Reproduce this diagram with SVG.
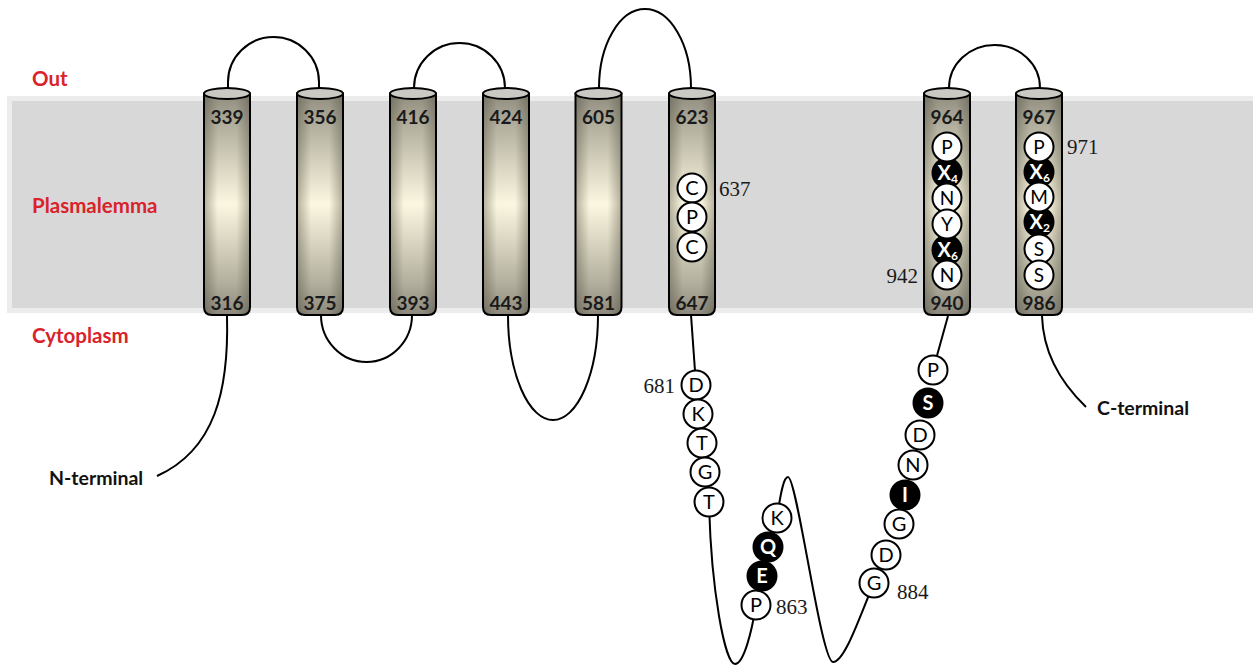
<svg xmlns="http://www.w3.org/2000/svg" xmlns:xlink="http://www.w3.org/1999/xlink" width="1253" height="668" viewBox="0 0 1253 668">
<defs>
<linearGradient id="body" x1="0" y1="0" x2="0" y2="1">
<stop offset="0" stop-color="#8f8c7f"/>
<stop offset="0.15" stop-color="#b3b09f"/>
<stop offset="0.5" stop-color="#fbf7e0"/>
<stop offset="0.85" stop-color="#b3b09f"/>
<stop offset="1" stop-color="#8c897c"/>
</linearGradient>
<linearGradient id="shade" x1="0" y1="0" x2="1" y2="0">
<stop offset="0" stop-color="#4a4636" stop-opacity="0.4"/>
<stop offset="0.3" stop-color="#4a4636" stop-opacity="0"/>
<stop offset="0.7" stop-color="#4a4636" stop-opacity="0"/>
<stop offset="1" stop-color="#4a4636" stop-opacity="0.4"/>
</linearGradient>
<path id="cylShape" d="M-23,93.5 V307 Q-23,315 -15,315 H15 Q23,315 23,307 V93.5 Z"/>
</defs>
<style>
.lbl{font-family:Lato,"Open Sans","Liberation Sans",sans-serif;font-weight:bold;font-size:20.5px;fill:#d9232b}
.term{font-family:Lato,"Open Sans","Liberation Sans",sans-serif;font-weight:bold;font-size:19.5px;fill:#111}
.num{font-family:Lato,"Open Sans","Liberation Sans",sans-serif;font-weight:bold;font-size:19px;fill:#1a1a1a;text-anchor:middle}
.pos{font-family:"Liberation Serif","DejaVu Serif",serif;font-size:21px;fill:#1a1a1a}
.wire{fill:none;stroke:#000;stroke-width:2}
.outl{fill:none;stroke:#000;stroke-width:2}
.cap{fill:#cbc9c3;stroke:#000;stroke-width:2}
.rw{fill:#fff;stroke:#000;stroke-width:2}
.rb{fill:#000;stroke:#000;stroke-width:2}
.tw{font-family:Lato,"Open Sans","Liberation Sans",sans-serif;font-size:20px;fill:#000;text-anchor:middle}
.tc{font-family:Lato,"Open Sans","Liberation Sans",sans-serif;font-size:19px;fill:#000;text-anchor:middle}
.tb{font-family:Lato,"Open Sans","Liberation Sans",sans-serif;font-size:20px;font-weight:bold;fill:#fff;text-anchor:middle}
.tx{font-family:Lato,"Open Sans","Liberation Sans",sans-serif;font-size:20px;font-weight:bold;fill:#fff}
.sub{font-size:12px}
</style>
<rect width="1253" height="668" fill="#fff"/>
<g id="membrane">
<rect x="7" y="96" width="1246" height="217" fill="#ececec"/>
<rect x="12" y="101" width="1241" height="207" fill="#d8d8d8"/>
</g>
<g id="labels">
<text class="lbl" x="32" y="86">Out</text>
<text class="lbl" x="32" y="213">Plasmalemma</text>
<text class="lbl" x="32" y="343">Cytoplasm</text>
<text class="term" x="49" y="485">N-terminal</text>
<text class="term" x="1097" y="415">C-terminal</text>
</g>
<g id="connectors">
<path class="wire" d="M228,88 V82 A45.5,45 0 0 1 319,82 V88"/>
<path class="wire" d="M414,88 A45.5,45 0 0 1 505,88"/>
<path class="wire" d="M599,88 A46,79 0 0 1 691,88"/>
<path class="wire" d="M949,88 A45.5,43 0 0 1 1040,88"/>
<path class="wire" d="M321,315 A45.5,47 0 0 0 412,315"/>
<path class="wire" d="M508,315 A45,105 0 0 0 598,315"/>
<path class="wire" d="M227,316 C229,390 215,450 157,476"/>
<path class="wire" d="M1042,316 C1043,350 1058,380 1086,407"/>
<path class="wire" d="M691,315 L696,385"/>
<path class="wire" d="M709,502 C711,590 725,664 735,664 C744,664 752,630 756,605"/>
<path class="wire" d="M777,518 C781,490 784,477 788,477 C797,477 821,662 833,662 C845,662 860,615 874,583"/>
<path class="wire" d="M933,370 L948,316"/>
</g>
<g id="tm339" transform="translate(227,0)">
<use xlink:href="#cylShape" fill="url(#body)"/><use xlink:href="#cylShape" fill="url(#shade)"/><use xlink:href="#cylShape" class="outl"/>
<ellipse class="cap" cx="0" cy="93.5" rx="23" ry="5.5"/>
<text class="num" x="0" y="124">339</text><text class="num" x="0" y="310">316</text>
</g>
<g id="tm356" transform="translate(320,0)">
<use xlink:href="#cylShape" fill="url(#body)"/><use xlink:href="#cylShape" fill="url(#shade)"/><use xlink:href="#cylShape" class="outl"/>
<ellipse class="cap" cx="0" cy="93.5" rx="23" ry="5.5"/>
<text class="num" x="0" y="124">356</text><text class="num" x="0" y="310">375</text>
</g>
<g id="tm416" transform="translate(413,0)">
<use xlink:href="#cylShape" fill="url(#body)"/><use xlink:href="#cylShape" fill="url(#shade)"/><use xlink:href="#cylShape" class="outl"/>
<ellipse class="cap" cx="0" cy="93.5" rx="23" ry="5.5"/>
<text class="num" x="0" y="124">416</text><text class="num" x="0" y="310">393</text>
</g>
<g id="tm424" transform="translate(506,0)">
<use xlink:href="#cylShape" fill="url(#body)"/><use xlink:href="#cylShape" fill="url(#shade)"/><use xlink:href="#cylShape" class="outl"/>
<ellipse class="cap" cx="0" cy="93.5" rx="23" ry="5.5"/>
<text class="num" x="0" y="124">424</text><text class="num" x="0" y="310">443</text>
</g>
<g id="tm605" transform="translate(598.5,0)">
<use xlink:href="#cylShape" fill="url(#body)"/><use xlink:href="#cylShape" fill="url(#shade)"/><use xlink:href="#cylShape" class="outl"/>
<ellipse class="cap" cx="0" cy="93.5" rx="23" ry="5.5"/>
<text class="num" x="0" y="124">605</text><text class="num" x="0" y="310">581</text>
</g>
<g id="tm623" transform="translate(692,0)">
<use xlink:href="#cylShape" fill="url(#body)"/><use xlink:href="#cylShape" fill="url(#shade)"/><use xlink:href="#cylShape" class="outl"/>
<ellipse class="cap" cx="0" cy="93.5" rx="23" ry="5.5"/>
<text class="num" x="0" y="124">623</text><text class="num" x="0" y="310">647</text>
</g>
<g id="tm964" transform="translate(947,0)">
<use xlink:href="#cylShape" fill="url(#body)"/><use xlink:href="#cylShape" fill="url(#shade)"/><use xlink:href="#cylShape" class="outl"/>
<ellipse class="cap" cx="0" cy="93.5" rx="23" ry="5.5"/>
<text class="num" x="0" y="124">964</text><text class="num" x="0" y="310">940</text>
</g>
<g id="tm967" transform="translate(1039,0)">
<use xlink:href="#cylShape" fill="url(#body)"/><use xlink:href="#cylShape" fill="url(#shade)"/><use xlink:href="#cylShape" class="outl"/>
<ellipse class="cap" cx="0" cy="93.5" rx="23" ry="5.5"/>
<text class="num" x="0" y="124">967</text><text class="num" x="0" y="310">986</text>
</g>
<g id="motif623">
<g id="r637"><circle class="rw" cx="692" cy="188" r="14.5"/><text class="tw" x="692" y="195">C</text></g>
<g id="r638"><circle class="rw" cx="692" cy="217" r="14.5"/><text class="tw" x="692" y="224">P</text></g>
<g id="r639"><circle class="rw" cx="692" cy="247" r="14.5"/><text class="tw" x="692" y="254">C</text></g>
<text class="pos" x="719" y="196">637</text>
</g>
<g id="motif964">
<circle class="rb" cx="947" cy="173" r="14.5"/>
<circle class="rb" cx="947" cy="250" r="14.5"/>
<circle class="rw" cx="947" cy="147" r="14.5"/>
<circle class="rw" cx="947" cy="198" r="14.5"/>
<circle class="rw" cx="947" cy="224" r="14.5"/>
<circle class="rw" cx="947" cy="275" r="14.5"/>
<text class="tc" x="947" y="154">P</text>
<text class="tx" x="937.5" y="179.5">X<tspan class="sub" dy="3.5">4</tspan></text>
<text class="tc" x="947" y="205">N</text>
<text class="tc" x="947" y="231">Y</text>
<text class="tx" x="937.5" y="256.5">X<tspan class="sub" dy="3.5">6</tspan></text>
<text class="tc" x="947" y="282">N</text>
<text class="pos" x="918" y="283" text-anchor="end">942</text>
</g>
<g id="motif967">
<circle class="rb" cx="1039" cy="172" r="14.5"/>
<circle class="rb" cx="1039" cy="222" r="14.5"/>
<circle class="rw" cx="1039" cy="147" r="14.5"/>
<circle class="rw" cx="1039" cy="197" r="14.5"/>
<circle class="rw" cx="1039" cy="249" r="14.5"/>
<circle class="rw" cx="1039" cy="275" r="14.5"/>
<text class="tc" x="1039" y="154">P</text>
<text class="tx" x="1029.5" y="178.5">X<tspan class="sub" dy="3.5">6</tspan></text>
<text class="tc" x="1039" y="204">M</text>
<text class="tx" x="1029.5" y="228.5">X<tspan class="sub" dy="3.5">2</tspan></text>
<text class="tc" x="1039" y="256">S</text>
<text class="tc" x="1039" y="282">S</text>
<text class="pos" x="1067" y="154">971</text>
</g>
<g id="loop681">
<g id="r681"><circle class="rw" cx="696" cy="385" r="14.5"/><text class="tw" x="696" y="392">D</text></g>
<g id="r682"><circle class="rw" cx="698" cy="414" r="14.5"/><text class="tw" x="698" y="421">K</text></g>
<g id="r683"><circle class="rw" cx="702" cy="443" r="14.5"/><text class="tw" x="702" y="450">T</text></g>
<g id="r684"><circle class="rw" cx="705" cy="472" r="14.5"/><text class="tw" x="705" y="479">G</text></g>
<g id="r685"><circle class="rw" cx="709" cy="502" r="14.5"/><text class="tw" x="709" y="509">T</text></g>
<text class="pos" x="675" y="393" text-anchor="end">681</text>
</g>
<g id="loop863">
<g id="r863"><circle class="rw" cx="756" cy="605" r="14.5"/><text class="tw" x="756" y="612">P</text></g>
<g id="r864"><circle class="rb" cx="762" cy="576" r="14.5"/><text class="tb" x="762" y="583">E</text></g>
<g id="r865"><circle class="rb" cx="768" cy="547" r="14.5"/><text class="tb" x="768" y="554">Q</text></g>
<g id="r866"><circle class="rw" cx="777" cy="518" r="14.5"/><text class="tw" x="777" y="525">K</text></g>
<text class="pos" x="776" y="614">863</text>
</g>
<g id="loop884">
<g id="r884"><circle class="rw" cx="874" cy="583" r="14.5"/><text class="tw" x="874" y="590">G</text></g>
<g id="r885"><circle class="rw" cx="886" cy="555" r="14.5"/><text class="tw" x="886" y="562">D</text></g>
<g id="r886"><circle class="rw" cx="899" cy="524" r="14.5"/><text class="tw" x="899" y="531">G</text></g>
<g id="r887"><circle class="rb" cx="905" cy="495" r="14.5"/><text class="tb" x="905" y="502">I</text></g>
<g id="r888"><circle class="rw" cx="913" cy="465" r="14.5"/><text class="tw" x="913" y="472">N</text></g>
<g id="r889"><circle class="rw" cx="920" cy="435" r="14.5"/><text class="tw" x="920" y="442">D</text></g>
<g id="r890"><circle class="rb" cx="928" cy="403" r="14.5"/><text class="tb" x="928" y="410">S</text></g>
<g id="r891"><circle class="rw" cx="933" cy="370" r="14.5"/><text class="tw" x="933" y="377">P</text></g>
<text class="pos" x="897" y="599">884</text>
</g>
</svg>
